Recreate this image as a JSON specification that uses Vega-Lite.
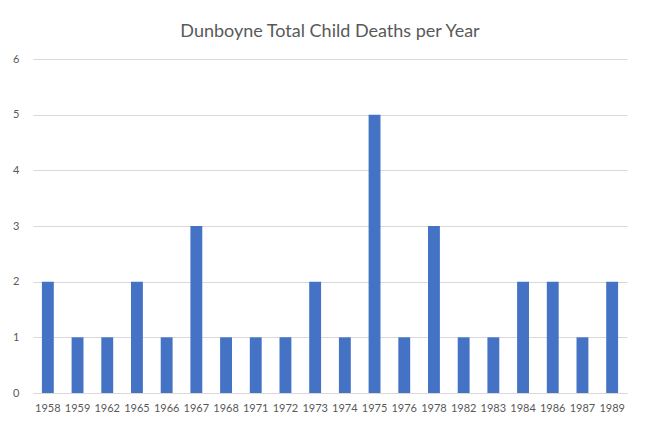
{
  "$schema": "https://vega.github.io/schema/vega-lite/v6.json",
  "autosize": "none",
  "width": 594,
  "height": 334,
  "padding": {"left": 33, "top": 59, "right": 23, "bottom": 45},
  "background": "white",
  "title": {
    "text": "Dunboyne Total Child Deaths per Year",
    "font": "Lato",
    "fontSize": 18,
    "fontWeight": "normal",
    "color": "#595959",
    "anchor": "middle",
    "offset": 12
  },
  "data": {
    "values": [
      {"year": "1958", "deaths": 2},
      {"year": "1959", "deaths": 1},
      {"year": "1962", "deaths": 1},
      {"year": "1965", "deaths": 2},
      {"year": "1966", "deaths": 1},
      {"year": "1967", "deaths": 3},
      {"year": "1968", "deaths": 1},
      {"year": "1971", "deaths": 1},
      {"year": "1972", "deaths": 1},
      {"year": "1973", "deaths": 2},
      {"year": "1974", "deaths": 1},
      {"year": "1975", "deaths": 5},
      {"year": "1976", "deaths": 1},
      {"year": "1978", "deaths": 3},
      {"year": "1982", "deaths": 1},
      {"year": "1983", "deaths": 1},
      {"year": "1984", "deaths": 2},
      {"year": "1986", "deaths": 2},
      {"year": "1987", "deaths": 1},
      {"year": "1989", "deaths": 2}
    ]
  },
  "mark": {"type": "bar", "color": "#4472C4"},
  "encoding": {
    "x": {
      "field": "year",
      "type": "ordinal",
      "sort": null,
      "scale": {"paddingInner": 0.6, "paddingOuter": 0.3},
      "axis": {
        "title": null,
        "labelAngle": 0,
        "labelFont": "Lato",
        "labelFontSize": 11,
        "labelColor": "#595959",
        "labelPadding": 9,
        "ticks": false,
        "domainColor": "#d9d9d9",
        "domainWidth": 1
      }
    },
    "y": {
      "field": "deaths",
      "type": "quantitative",
      "scale": {"domain": [0, 6], "nice": false},
      "axis": {
        "title": null,
        "values": [0, 1, 2, 3, 4, 5, 6],
        "format": "d",
        "labelFont": "Lato",
        "labelFontSize": 11,
        "labelColor": "#595959",
        "labelPadding": 14,
        "ticks": false,
        "domain": false,
        "grid": true,
        "gridColor": "#d9d9d9",
        "gridWidth": 1
      }
    }
  },
  "config": {"view": {"stroke": null}}
}
